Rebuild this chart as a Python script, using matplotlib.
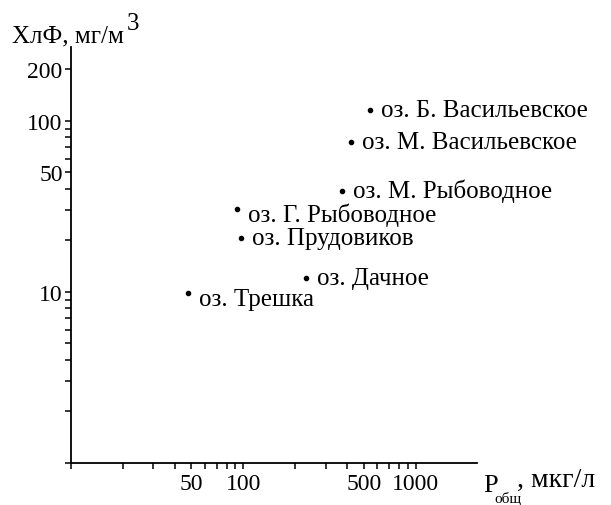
import numpy as np
import matplotlib
matplotlib.use("Agg")
import matplotlib.pyplot as plt
from matplotlib.ticker import FixedLocator, FuncFormatter

# lakes: total phosphorus (mkg/l) vs chlorophyll (mg/m3)
lakes = ["оз. Б. Васильевское", "оз. М. Васильевское", "оз. М. Рыбоводное",
         "оз. Г. Рыбоводное", "оз. Прудовиков", "оз. Дачное", "оз. Трешка"]
p_total = [547, 420, 372, 92, 97, 231, 48]
chl = [116, 75, 39, 30.5, 20.6, 12.1, 9.8]

x_tick_labels = [50, 100, 500, 1000]
y_tick_labels = [10, 50, 100, 200]

plt.rcParams["font.family"] = ["Liberation Serif", "DejaVu Serif"]
FS = 18

fig = plt.figure(figsize=(6.11, 5.06), dpi=100)
ax = fig.add_axes([71 / 611, 42 / 506, 406 / 611, 416 / 506])

ax.scatter(p_total, chl, s=9, color="black", zorder=3)
# a couple of labels sit a bit lower than their dot in the original
low_labels = ("оз. Г. Рыбоводное", "оз. Трешка")
for name, x, y in zip(lakes, p_total, chl):
    dy = -12 if name in low_labels else -6
    ax.annotate(name, (x, y), xytext=(11, dy), textcoords="offset pixels",
                fontsize=FS, va="baseline", ha="left")

ax.set_xscale("log")
ax.set_yscale("log")
ax.set_xlim(10, 2270)
ax.set_ylim(1, 270)

# ticks at every 1..9 step of each decade, labels only on a few
xt = [m * 10 ** d for d in (1, 2) for m in range(1, 10)] + [1000]
yt = [m * 10 ** d for d in (0, 1) for m in range(1, 10)] + [100, 200]
ax.xaxis.set_major_locator(FixedLocator(xt))
ax.yaxis.set_major_locator(FixedLocator(yt))
ax.minorticks_off()
ax.xaxis.set_major_formatter(FuncFormatter(lambda v, p: f"{v:g}" if round(v) in x_tick_labels else ""))
ax.yaxis.set_major_formatter(FuncFormatter(lambda v, p: f"{v:g}" if round(v) in y_tick_labels else ""))
ax.tick_params(direction="out", length=4, width=1.1, labelsize=17)
ax.tick_params(axis="x", pad=3)
ax.tick_params(axis="y", pad=2)

for side in ("top", "right"):
    ax.spines[side].set_visible(False)
for side in ("left", "bottom"):
    ax.spines[side].set_linewidth(1.3)

# axis titles
fig.text(12 / 611, 1 - 42 / 506, "ХлФ, мг/м", fontsize=FS, va="baseline", ha="left")
fig.text(127 / 611, 1 - 30 / 506, "3", fontsize=FS, va="baseline", ha="left")
fig.text(483 / 611, 1 - 492 / 506, "P", fontsize=19, va="baseline", ha="left")
fig.text(494 / 611, 1 - 503 / 506, "общ", fontsize=11, va="baseline", ha="left")
fig.text(517 / 611, 1 - 487 / 506, ", мкг/л", fontsize=20, va="baseline", ha="left")

fig.savefig("out.png", dpi=100)
